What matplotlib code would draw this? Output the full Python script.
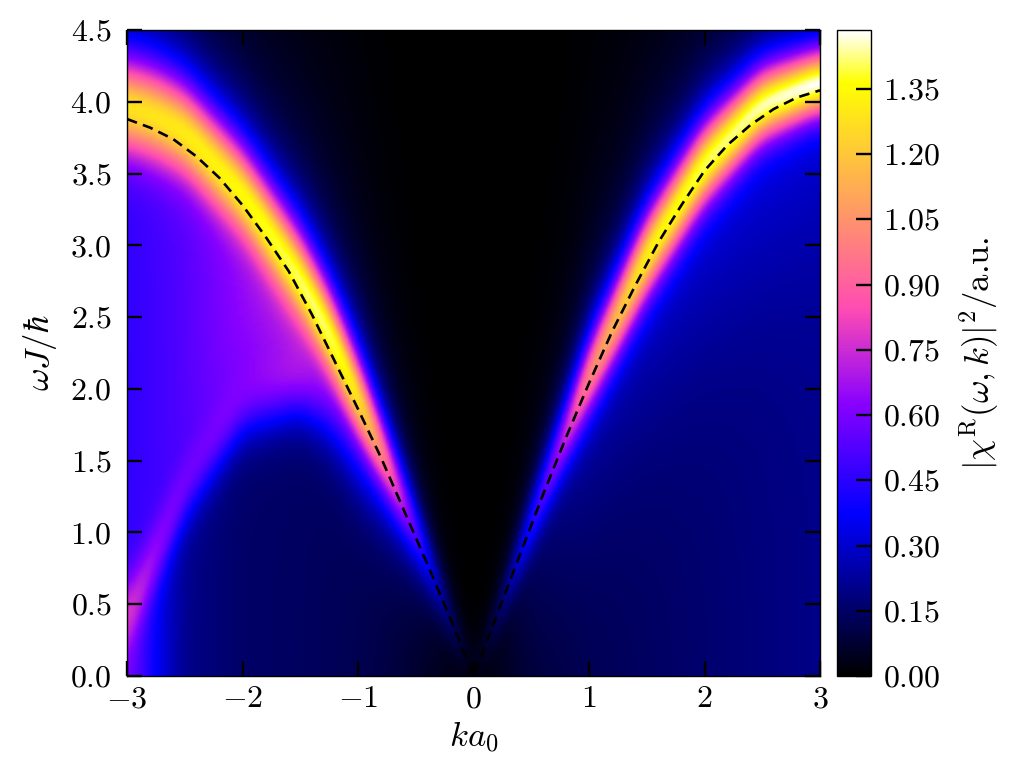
import numpy as np
import matplotlib
matplotlib.use("Agg")
import matplotlib.pyplot as plt
from matplotlib.ticker import FuncFormatter, MultipleLocator

plt.rcParams["mathtext.fontset"] = "cm"
plt.rcParams["font.family"] = "serif"
plt.rcParams["font.serif"] = ["cmr10", "DejaVu Serif"]

# dashed dispersion curve
disp_k = [-3.0, -2.8, -2.6, -2.4, -2.2, -2.0, -1.8, -1.6, -1.4, -1.2, -1.0,
          -0.8, -0.6, -0.4, -0.2, 0.0, 0.2, 0.4, 0.6, 0.8, 1.0, 1.2, 1.4,
          1.6, 1.8, 2.0, 2.2, 2.4, 2.6, 2.8, 3.0]
disp_w = [3.88, 3.82, 3.74, 3.62, 3.47, 3.28, 3.06, 2.82, 2.52, 2.19, 1.86,
          1.52, 1.15, 0.78, 0.40, 0.0, 0.42, 0.84, 1.26, 1.66, 2.04, 2.40, 2.72,
          3.02, 3.28, 3.52, 3.70, 3.84, 3.95, 4.03, 4.08]

# spectral ridge along k: centre, height, half width
k_nodes = [-3.0, -2.75, -2.5, -2.0, -1.5, -1.25, -1.0, -0.75, -0.5, -0.25, 0.0,
           0.25, 0.5, 0.75, 1.0, 1.5, 2.0, 2.5, 3.0]
ridge_w = [3.97, 3.90, 3.79, 3.36, 2.76, 2.38, 1.93, 1.47, 1.00, 0.50, 0.0,
           0.50, 1.05, 1.58, 2.08, 2.92, 3.56, 3.98, 4.14]
ridge_peak = [1.27, 1.28, 1.30, 1.34, 1.39, 1.41, 1.29, 0.92, 0.50, 0.18, 0.0,
              0.15, 0.42, 0.65, 1.00, 1.32, 1.40, 1.44, 1.48]
ridge_hw = [0.34, 0.34, 0.33, 0.32, 0.32, 0.31, 0.30, 0.27, 0.24, 0.20, 0.18,
            0.18, 0.22, 0.25, 0.28, 0.29, 0.28, 0.25, 0.22]

# continuum under the ridge: lower edge (arch), level above / below it, arch line
arch_w = [0.40, 0.85, 1.30, 1.88, 2.02, 1.88, 1.52, 1.10, 0.70, 0.35, 0.0,
          0.15, 0.45, 0.85, 1.30, 2.00, 2.55, 2.95, 3.15]
shelf_level = [0.46, 0.49, 0.53, 0.64, 0.72, 0.62, 0.45, 0.30, 0.18, 0.08, 0.0,
               0.06, 0.14, 0.20, 0.25, 0.30, 0.33, 0.34, 0.32]
floor_level = [0.62, 0.35, 0.20, 0.15, 0.14, 0.13, 0.12, 0.10, 0.07, 0.03, 0.0,
               0.04, 0.08, 0.10, 0.12, 0.14, 0.16, 0.18, 0.20]
arch_peak = [0.25, 0.20, 0.18, 0.15, 0.18, 0.12, 0.04, 0.0, 0.0, 0.0, 0.0,
             0.0, 0.0, 0.0, 0.0, 0.0, 0.0, 0.0, 0.0]
arch_soft = [0.15, 0.15, 0.15, 0.15, 0.15, 0.18, 0.20, 0.20, 0.20, 0.20, 0.20,
             0.25, 0.30, 0.35, 0.40, 0.45, 0.45, 0.45, 0.45]

cbar_ticks = [0.0, 0.15, 0.30, 0.45, 0.60, 0.75, 0.90, 1.05, 1.20, 1.35]
vmax = 1.485

k = np.linspace(-3, 3, 241)
w = np.linspace(0, 4.5, 451)


def along_k(vals, sigma=0.08):
    p = np.interp(k, k_nodes, vals)
    dk = k[1] - k[0]
    n = int(3 * sigma / dk)
    ker = np.exp(-0.5 * (np.arange(-n, n + 1) * dk / sigma) ** 2)
    ker /= ker.sum()
    p = np.convolve(np.pad(p, n, mode="edge"), ker, mode="valid")
    return p[None, :]


W = w[:, None]
wc = along_k(ridge_w)
d = (W - wc) / along_k(ridge_hw)
ridge = along_k(ridge_peak) * (0.75 / (1 + d ** 2) + 0.25 * np.exp(-np.log(2) * d ** 2))

edge = along_k(arch_w)
lo, hi = along_k(floor_level), along_k(shelf_level)
shelf = lo + (hi - lo) / (1 + np.exp(-(W - edge) / along_k(arch_soft)))
arch = along_k(arch_peak) * np.exp(-0.5 * ((W - edge) / 0.18) ** 2)
gate = 1 / (1 + np.exp(-(wc - W) / 0.12))
bg = gate * (shelf + arch)
p = 2.5
chi = (ridge ** p + bg ** p) ** (1 / p)

fig = plt.figure(figsize=(10.17, 7.8), dpi=100)
ax = fig.add_axes([0.1249, 0.1333, 0.6814, 0.8282])
cax = fig.add_axes([0.823, 0.1333, 0.033, 0.8282])

im = ax.imshow(chi, origin="lower", extent=[-3, 3, 0, 4.5], aspect="auto",
               cmap="gnuplot2", vmin=0, vmax=vmax, interpolation="bilinear")
ax.plot(disp_k, disp_w, color="black", lw=1.9, ls=(0, (4, 2.4)))

ax.set_xlim(-3, 3)
ax.set_ylim(0, 4.5)
ax.xaxis.set_major_locator(MultipleLocator(1))
ax.yaxis.set_major_locator(MultipleLocator(0.5))
ax.xaxis.set_major_formatter(FuncFormatter(lambda v, pos: f"${v:.0f}$"))
ax.yaxis.set_major_formatter(FuncFormatter(lambda v, pos: f"${v:.1f}$"))
ax.tick_params(direction="in", length=10.5, width=1.7, top=True, right=True,
               labelsize=23)
ax.tick_params(axis="x", pad=7)
ax.tick_params(axis="y", pad=11)
for s in ax.spines.values():
    s.set_linewidth(1.0)
ax.set_xlabel(r"$ka_0$", fontsize=25, labelpad=4)
ax.set_ylabel(r"$\omega J/\hbar$", fontsize=25, labelpad=8)

cb = fig.colorbar(im, cax=cax, ticks=cbar_ticks)
cb.ax.yaxis.set_major_formatter(FuncFormatter(lambda v, pos: f"${v:.2f}$"))
cb.ax.tick_params(direction="in", length=10.5, width=1.7, labelsize=23, pad=9)
cb.outline.set_linewidth(1.0)
cb.set_label(r"$|\chi^{\mathrm{R}}(\omega,k)|^2/$a.u.", fontsize=25, labelpad=12)

fig.savefig("out.png", dpi=100)
